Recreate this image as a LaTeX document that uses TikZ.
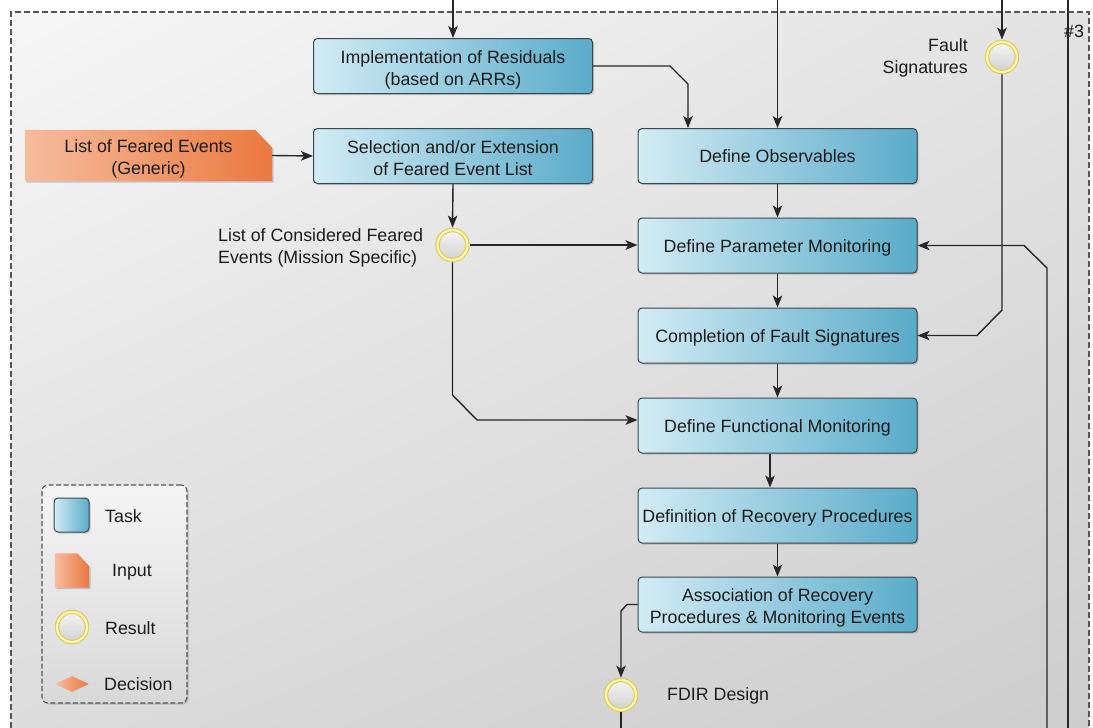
\documentclass[tikz,border=0pt]{standalone}
\usepackage{fontspec}
\setmainfont{Liberation Sans}
\usetikzlibrary{arrows.meta,shapes.geometric,shadows,shadings,calc}

\definecolor{taskL}{HTML}{D2ECF4}
\definecolor{taskR}{HTML}{5AABC9}
\definecolor{taskB}{HTML}{3A474D}
\definecolor{inL}{HTML}{F6BC9E}
\definecolor{inR}{HTML}{EB783F}
\definecolor{ringY}{HTML}{E0CE48}
\definecolor{ringL}{HTML}{F9F3BE}
\definecolor{lineC}{HTML}{262626}
\definecolor{txtC}{HTML}{1C1C1C}
\definecolor{bgA}{HTML}{F7F7F7}
\definecolor{bgB}{HTML}{E3E3E3}
\definecolor{bgC}{HTML}{DCDCDC}
\definecolor{bgD}{HTML}{CDCDCD}
\definecolor{dashC}{HTML}{555555}

\pgfdeclarelayer{bg}
\pgfdeclarelayer{back}
\pgfsetlayers{bg,back,main}

% struts that place one- and two-line captions inside the task boxes
\newcommand{\oneline}{\rule[-4pt]{0pt}{21pt}}
\newcommand{\topline}{\rule{0pt}{20.5pt}}
\newcommand{\lastline}{\rule[-4pt]{0pt}{4pt}}

\begin{document}
\begin{tikzpicture}[x=1pt,y=-1pt,
  font=\fontsize{17.8}{22}\selectfont, text=txtC,
  conn/.style={draw=lineC, line width=1.4pt, -{Stealth[length=12pt,width=9.5pt,inset=3pt]}},
  wire/.style={draw=lineC, line width=1.4pt},
  softshadow/.style={drop shadow={shadow xshift=1.5pt, shadow yshift=-1.5pt, opacity=0.3, fill=black!60}},
  task/.style={draw=taskB, line width=1pt, rounded corners=4pt,
    left color=taskL, right color=taskR, minimum width=279pt, minimum height=55pt,
    align=center, inner sep=0pt, softshadow},
  tasksmall/.style={task, minimum width=35pt, minimum height=34pt},
  inputfill/.style={left color=inL, right color=inR, draw=none, softshadow},
  result/.style={circle, minimum size=30pt, inner sep=0pt, outer sep=2.4pt,
    draw=ringY, line width=1.1pt, double=ringL, double distance=2.2pt,
    top color=black!4, bottom color=black!18},
  decision/.style={diamond, minimum width=34pt, minimum height=16pt, inner sep=0pt,
    shape aspect=2.1, left color=inL, right color=inR, draw=none},
  label/.style={align=left, inner sep=0pt},
  borderline/.style={draw=dashC, line width=1.1pt, dash pattern=on 6pt off 3pt},
]
\useasboundingbox (0,0) rectangle (1093,728);

% page background, dashed swimlane frame and legend frame
\begin{pgfonlayer}{bg}
  \fill[white] (0,0) rectangle (1093,728);
  \shade[upper left=bgA, upper right=bgB, lower left=bgC, lower right=bgD]
    (11,12) rectangle (1089,728);
  \draw[borderline] (11,728) -- (11,12) -- (1089,12) -- (1089,728);
  \draw[wire] (1068,0) -- (1068,728);
  \node[draw=dashC, line width=1.1pt, dash pattern=on 5pt off 2.5pt, rounded corners=6pt,
    minimum width=145pt, minimum height=218pt, top color=black!4, bottom color=black!15,
    softshadow] (legend) at (114.5,594) {};
\end{pgfonlayer}

% tasks
\node[task] (impl)   at (453,66)    {\topline Implementation of Residuals\\(based on ARRs)\lastline};
\node[task] (select) at (453,156)   {\topline Selection and/or Extension\\of Feared Event List\lastline};
\node[task] (obs)    at (777.5,156) {\oneline Define Observables};
\node[task] (param)  at (777.5,245.5) {\oneline Define Parameter Monitoring};
\node[task] (compl)  at (777.5,335.5) {\oneline Completion of Fault Signatures};
\node[task] (func)   at (777.5,425.5) {\oneline Define Functional Monitoring};
\node[task] (recov)  at (777.5,515.5) {\oneline Definition of Recovery Procedures};
\node[task] (assoc)  at (777.5,604.5) {\topline Association of Recovery\\Procedures \& Monitoring Events\lastline};

% input document
\node[minimum width=247pt, minimum height=51pt, inner sep=0pt, align=center]
  (input) at (148.5,155.5) {\topline List of Feared Events\\(Generic)\lastline};
\begin{pgfonlayer}{back}
  \path[inputfill] (input.south west) -- (input.north west)
    -- ($(input.north east)+(-17,0)$) -- ($(input.north east)+(0,18)$)
    -- (input.south east) -- cycle;
\end{pgfonlayer}

% results
\node[result] (fs)   at (1002,57) {};
\node[result] (lce)  at (452.5,245) {};
\node[result] (fdir) at (621,695) {};

\node[label, anchor=east, align=right] (fslbl) at (968,58) {Fault\\Signatures};
\node[label, anchor=west] (lcelbl) at (218,248) {List of Considered Feared\\Events (Mission Specific)};
\node[label, anchor=west] (fdirlbl) at (667,696) {FDIR Design};
\node[label] (lane) at (1074,31) {\#3};

% legend entries
\node[tasksmall] (ktask) at (71.5,515) {};
\node[label, anchor=west] (ktasklbl) at (105,516) {Task};
\node[minimum width=34pt, minimum height=34pt, inner sep=0pt] (kin) at (72,570.5) {};
\begin{pgfonlayer}{back}
  \path[inputfill] (kin.south west) -- (kin.north west)
    -- ($(kin.north east)+(-12,0)$) -- ($(kin.north east)+(0,13)$)
    -- (kin.south east) -- cycle;
\end{pgfonlayer}
\node[label, anchor=west] (kinlbl) at (112,572) {Input};
\node[result] (kres) at (72,627) {};
\node[label, anchor=west] (kreslbl) at (105,628) {Result};
\node[decision] (kdec) at (72,684) {};
\node[label, anchor=west] (kdeclbl) at (104,684) {Decision};

% free ends and bends of the flows
\coordinate (inImpl) at (453,0);
\coordinate (inObs)  at (777.5,0);
\coordinate (inFs)   at (1002,0);
\coordinate (inBack) at (1047,728);
\coordinate (outFd)  at (621,728);
\coordinate (k1) at (688,84);
\coordinate (k2) at (477,420);
\coordinate (k3) at (770,0);

% flows
\draw[conn] (inImpl) -- (impl.north);
\draw[conn] (inObs) -- (obs.north);
\draw[conn] (impl.east) -- (670,66) -- (k1) -- (k1 |- obs.north);
\draw[conn] (inFs) -- (fs.north);
\draw[conn] (fs.south) -- (1002,310) -- (977,335.5) -- (compl.east);
\draw[conn] (inBack) -- (1047,268) -- (1024,245.5) -- (param.east);
\draw[conn] (input.east) -- (select.west);
\draw[conn] (select.south) -- (lce.north);
\draw[conn] (lce.east) -- (lce.east -| param.west);
\draw[conn] (lce.south) -- (452.5,395) -- (k2) -- (k2 -| func.west);
\draw[conn] (obs.south) -- (param.north);
\draw[conn] (param.south) -- (compl.north);
\draw[conn] (compl.south) -- (func.north);
\draw[conn] (func.south -| k3) -- (recov.north -| k3);
\draw[conn] (recov.south) -- (assoc.north);
\draw[conn] (assoc.west) -- (627,604.5) -- (621,611) -- (fdir.north);
\draw[wire] (fdir.south) -- (outFd);
\end{tikzpicture}
\end{document}
